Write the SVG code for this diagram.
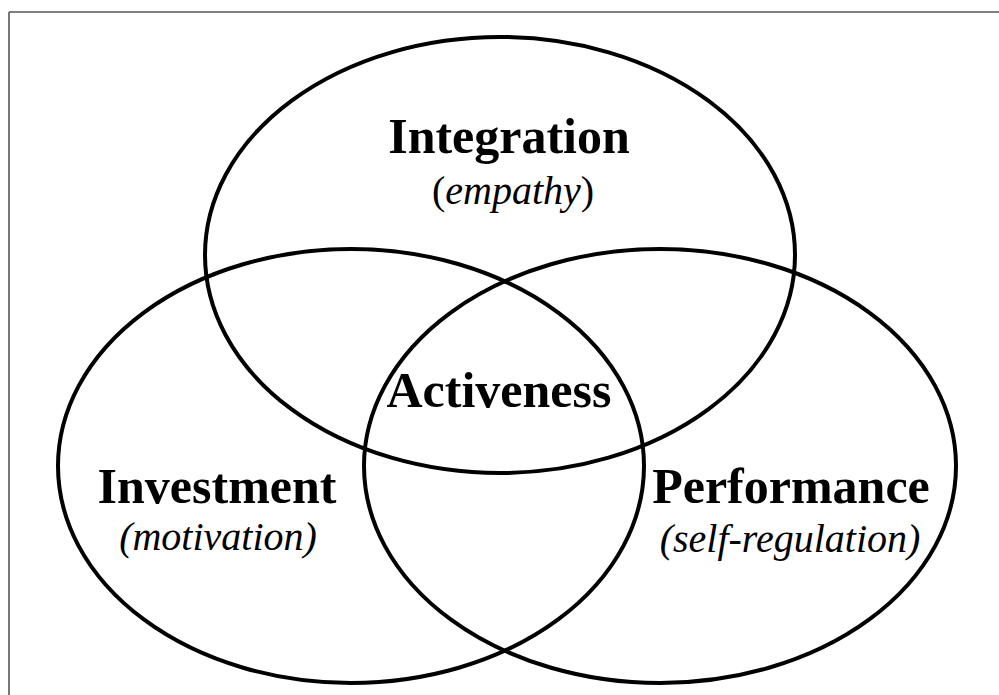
<svg xmlns="http://www.w3.org/2000/svg" width="999" height="695" viewBox="0 0 999 695">
<style>
.frame{stroke:#555;stroke-width:1.6;fill:none}
.ring{fill:none;stroke:#000;stroke-width:4}
.t{font-family:"Liberation Serif","Times New Roman",serif;font-weight:bold;font-size:50px;fill:#000;text-anchor:middle}
.s{font-family:"Liberation Serif","Times New Roman",serif;font-style:italic;font-size:40px;fill:#000;text-anchor:middle}
.up{font-style:normal}
</style>
<rect x="0" y="0" width="999" height="695" fill="#fff"/>
<g id="frame">
<line class="frame" x1="9" y1="12" x2="999" y2="12"/>
<line class="frame" x1="9" y1="12" x2="9" y2="695"/>
</g>
<g id="integration">
<ellipse class="ring" cx="500" cy="255" rx="295" ry="218"/>
<text class="t" x="509" y="153">Integration</text>
<text class="s" x="513" y="204"><tspan class="up">(</tspan>empathy<tspan class="up">)</tspan></text>
</g>
<g id="investment">
<ellipse class="ring" cx="351" cy="466" rx="293" ry="217"/>
<text class="t" x="217" y="503">Investment</text>
<text class="s" x="218" y="550">(motivation)</text>
</g>
<g id="performance">
<ellipse class="ring" cx="660" cy="466" rx="296" ry="217"/>
<text class="t" x="791" y="503">Performance</text>
<text class="s" x="790" y="552">(self-regulation)</text>
</g>
<g id="activeness">
<text class="t" x="499" y="407">Activeness</text>
</g>
</svg>
